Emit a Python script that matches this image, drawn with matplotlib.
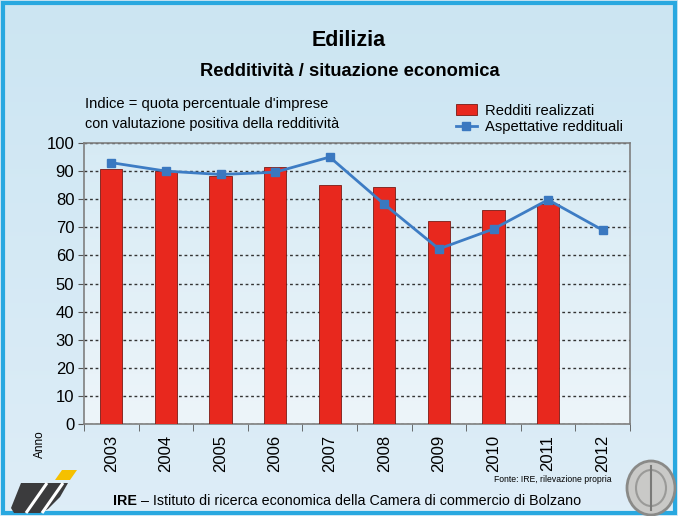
from matplotlib import pyplot as plt
from matplotlib.patches import Rectangle, Polygon, Ellipse
import numpy as np

# Serie storiche
anni = ['2003', '2004', '2005', '2006', '2007', '2008', '2009', '2010', '2011', '2012']
redditi_realizzati = [90.7, 90.2, 88.1, 91.3, 85.1, 84.2, 72.4, 76.0, 78.3, np.nan]
aspettative = [93.0, 90.0, 88.8, 89.6, 95.0, 78.2, 62.3, 69.4, 79.8, 69.0]
y_ticks = [0, 10, 20, 30, 40, 50, 60, 70, 80, 90, 100]

FONT = ['Liberation Sans Narrow', 'Liberation Sans', 'DejaVu Sans']
plt.rcParams['font.family'] = FONT

W, H = 678, 516
fig = plt.figure(figsize=(W / 100, H / 100), dpi=100)

# sfondo con sfumatura azzurra (coordinate in pixel)
bg = fig.add_axes([0, 0, 1, 1], zorder=-10)
grad = np.linspace(0, 1, 256).reshape(-1, 1)
top = np.array([0.80, 0.90, 0.95])
bot = np.array([0.87, 0.93, 0.97])
img = top + (bot - top) * grad[..., None]
bg.imshow(img, aspect='auto', extent=[0, W, H, 0])
bg.add_patch(Rectangle((3, 3), W - 6, H - 6, fill=False, edgecolor='#29a8e0', linewidth=3))

# logo IRE in basso a sinistra
bg.add_patch(Polygon([[21, 483], [68, 483], [60, 497], [48, 509], [40, 513],
                      [14, 513], [11, 508]], closed=True, color='#3b3b3d', lw=0))
for x0 in (30, 46):
    bg.plot([x0 + 17, x0 - 4], [483, 513], color='white', lw=2.2, solid_capstyle='butt')
bg.add_patch(Polygon([[62, 470], [77, 470], [70, 480], [55, 480]], closed=True,
                     color='#f5c000', lw=0))

# stemma in basso a destra
bg.add_patch(Ellipse((651, 488), 48, 54, facecolor='#c9c9c7', edgecolor='#8a8a88', lw=2))
bg.add_patch(Ellipse((651, 488), 30, 36, facecolor='none', edgecolor='#9a9a98', lw=1.5))
bg.plot([651, 651], [466, 510], color='#7a7a78', lw=1.5)

bg.set_xlim(0, W)
bg.set_ylim(H, 0)
bg.axis('off')

ax = fig.add_axes([84 / W, 1 - 424 / H, 546 / W, 281 / H])
x = np.arange(len(anni))

# sfondo dell'area del grafico
c0 = np.array([0.84, 0.92, 0.96])
c1 = np.array([0.93, 0.96, 0.98])
ax.imshow(c0 + (c1 - c0) * grad[..., None], aspect='auto',
          extent=[-0.5, len(anni) - 0.5, 0, 100], origin='upper', zorder=0)

ax.bar(x, redditi_realizzati, width=0.41, color='#e8281e', edgecolor='#7a1a14',
       linewidth=0.6, zorder=3, label='Redditi realizzati')
ax.plot(x, aspettative, color='#3d7cc4', linewidth=2, marker='s', markersize=6,
        markerfacecolor='#3a78c0', markeredgecolor='#3a78c0', zorder=4,
        label='Aspettative reddituali')

ax.set_xlim(-0.5, len(anni) - 0.5)
ax.set_ylim(0, 100)
ax.set_yticks(y_ticks)
ax.set_yticklabels([str(v) for v in y_ticks], fontsize=12)
ax.set_xticks(x)
ax.set_xticklabels(anni, rotation=90, fontsize=12)
ax.set_xticks(np.arange(-0.5, len(anni)), minor=True)
ax.tick_params(axis='x', which='major', length=0, pad=8)
ax.tick_params(axis='x', which='minor', length=5, direction='out', color='#555555')
ax.tick_params(axis='y', length=4, direction='out', color='#555555', pad=3)
ax.grid(axis='y', linestyle=(0, (2, 2)), color='#333333', linewidth=1, zorder=1)
for s in ax.spines.values():
    s.set_color('#7f7f7f')
    s.set_linewidth(1.2)

fig.text(349 / W, 1 - 40 / H, 'Edilizia', ha='center', va='center', fontsize=15.5, fontweight='bold')
fig.text(350 / W, 1 - 72 / H, 'Redditività / situazione economica', ha='center', va='center',
         fontsize=13.2, fontweight='bold')
fig.text(85 / W, 1 - 104 / H, "Indice = quota percentuale d'imprese", ha='left', va='center',
         fontsize=10.6)
fig.text(85 / W, 1 - 124 / H, 'con valutazione positiva della redditività', ha='left',
         va='center', fontsize=10.4)

handles, labels = ax.get_legend_handles_labels()
fig.legend(handles[::-1], labels[::-1], loc='upper left', bbox_to_anchor=(450 / W, 1 - 98 / H),
           frameon=False, fontsize=10.6, handlelength=1.4, handleheight=0.8, labelspacing=0.15,
           borderaxespad=0, handletextpad=0.6)

fig.text(40 / W, 1 - 444 / H, 'Anno', rotation=90, ha='center', va='center', fontsize=8.5)
fig.text(612 / W, 1 - 480 / H, 'Fonte: IRE, rilevazione propria', ha='right', va='center',
         fontsize=6.2)
t_ire = fig.text(113 / W, 1 - 501 / H, 'IRE', ha='left', va='center', fontsize=10.3,
                 fontweight='bold')
ax.annotate('– Istituto di ricerca economica della Camera di commercio di Bolzano',
            xy=(1, 0.5), xycoords=t_ire, xytext=(3, 0), textcoords='offset points',
            ha='left', va='center', fontsize=10.3, annotation_clip=False)

fig.savefig('out.png', dpi=100)
